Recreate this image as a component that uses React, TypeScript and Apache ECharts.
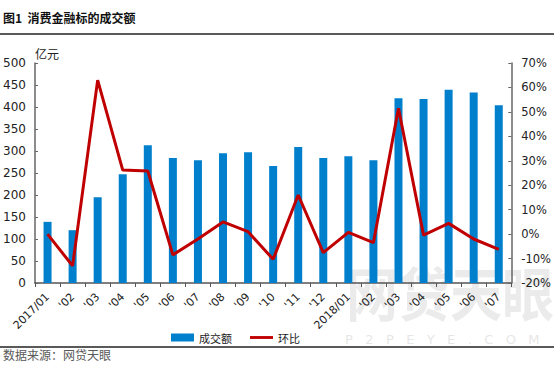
import React, { useEffect, useRef } from "react";
import * as echarts from "echarts";

const categories = ["2017/01", "'02", "'03", "'04", "'05", "'06", "'07", "'08", "'09", "'10", "'11", "'12", "2018/01", "'02", "'03", "'04", "'05", "'06", "'07"];
const volume = [139, 120, 195, 247, 313, 284, 279, 295, 297, 266, 309, 284, 288, 279, 420, 418, 439, 433, 404];
const momChange = [0, -13, 63, 26.2, 25.8, -8.5, -2, 5, 1, -10.3, 16, -7.6, 0.7, -3.5, 51.5, -0.4, 4.4, -2, -6.2];

const FONT = "'DejaVu Sans', 'Noto Sans CJK SC', sans-serif";
const CJK = "'Noto Sans CJK SC', sans-serif";

export default function App() {
  const ref = useRef<HTMLDivElement>(null);
  useEffect(() => {
    const chart = echarts.init(ref.current!, null, { renderer: "svg" });
    chart.setOption({
      animation: false,
      backgroundColor: "#ffffff",
      grid: { left: 35, right: 42, top: 63, bottom: 83, containLabel: false },
      legend: {
        left: 166,
        top: 327,
        itemGap: 18,
        itemWidth: 23,
        itemHeight: 8,
        textStyle: { fontFamily: CJK, fontSize: 11, color: "#222" },
        data: [
          { name: "成交额", icon: "rect" },
          { name: "环比", icon: "path://M0 0H24V3H0Z", itemStyle: { color: "#c00000" } },
        ],
      },
      xAxis: {
        type: "category",
        data: categories,
        axisLine: { lineStyle: { color: "#555", width: 1.5 } },
        axisTick: { show: true, inside: false, length: 4, lineStyle: { color: "#555" } },
        axisLabel: { rotate: 45, interval: 0, fontFamily: FONT, fontSize: 11, color: "#222", margin: 12 },
      },
      yAxis: [
        {
          type: "value",
          min: 0,
          max: 500,
          interval: 50,
          name: "亿元",
          nameLocation: "end",
          nameGap: 4,
          nameTextStyle: { fontFamily: CJK, fontSize: 12, color: "#222", align: "left", padding: [0, 0, 0, 0] },
          splitLine: { show: false },
          axisLine: { show: true, lineStyle: { color: "#666", width: 1.5 } },
          axisTick: { show: true, inside: true, length: 3, lineStyle: { color: "#666" } },
          axisLabel: { fontFamily: FONT, fontSize: 12, color: "#222", margin: 9 },
        },
        {
          type: "value",
          min: -20,
          max: 70,
          interval: 10,
          splitLine: { show: false },
          axisLine: { show: true, lineStyle: { color: "#666", width: 1.5 } },
          axisTick: { show: true, inside: true, length: 3, lineStyle: { color: "#666" } },
          axisLabel: { fontFamily: FONT, fontSize: 11.5, color: "#222", margin: 10, formatter: "{value}%" },
        },
      ],
      series: [
        {
          name: "成交额",
          type: "bar",
          data: volume,
          barWidth: 8,
          itemStyle: { color: "#0080cc" },
          z: 2,
        },
        {
          name: "环比",
          type: "line",
          yAxisIndex: 1,
          data: momChange,
          symbol: "none",
          lineStyle: { color: "#c00000", width: 3 },
          itemStyle: { color: "#c00000" },
          z: 3,
        },
      ],
      graphic: [
        { type: "text", left: 3, top: 11, style: { text: "图1  消费金融标的成交额", font: `bold 12px ${CJK}`, fill: "#111" } },
        { type: "line", shape: { x1: 0, y1: 34, x2: 554, y2: 34 }, style: { stroke: "#222", lineWidth: 1.5 } },
        { type: "line", shape: { x1: 0, y1: 347, x2: 554, y2: 347 }, style: { stroke: "#222", lineWidth: 1.5 } },
        { type: "text", left: 3, top: 348, style: { text: "数据来源：网贷天眼", font: `12px ${CJK}`, fill: "#595959" } },
        { type: "text", x: 346, y: 262, z: -1, scaleY: 1.12, style: { text: "网贷天眼", font: `bold 52px ${CJK}`, fill: "rgba(205,205,205,0.4)" } },
        { type: "text", x: 345, y: 333, z: -1, style: { text: "P   2   P   E   Y   E   .   C   O   M", font: `13px ${FONT}`, fill: "rgba(205,205,205,0.5)" } },
      ],
    });
    return () => chart.dispose();
  }, []);
  return <div ref={ref} style={{ width: 554, height: 366, position: "absolute", left: 0, top: 0 }} />;
}
